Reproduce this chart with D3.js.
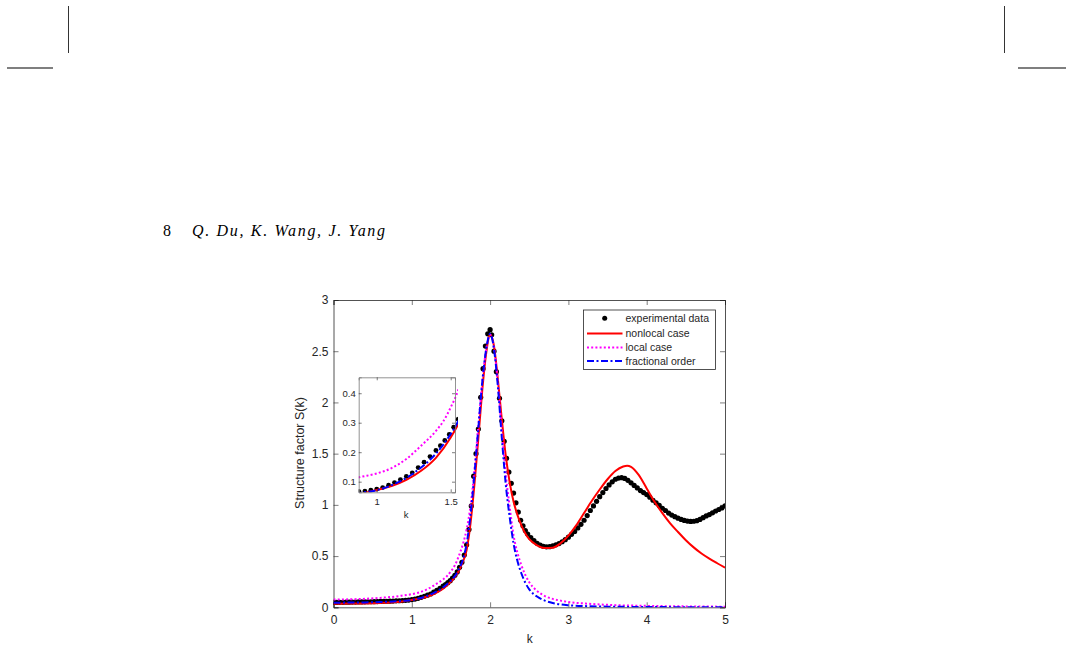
<!DOCTYPE html>
<html>
<head>
<meta charset="utf-8">
<script src="https://cdn.jsdelivr.net/npm/d3@7"></script>
<style>
  body { margin: 0; background: #fff; }
  svg { display: block; }
  text { font-family: "Liberation Sans", Arial, sans-serif; fill: #262626; }
  .serif { font-family: "Liberation Serif", "DejaVu Serif", serif; fill: #000; }
</style>
</head>
<body>
<svg id="page" width="1071" height="650"></svg>
<script>
// experimental data points (k, S)
var expK = [0.00,0.04,0.08,0.12,0.16,0.20,0.24,0.28,0.32,0.36,0.40,0.44,0.48,0.52,0.56,0.60,0.64,0.68,0.72,0.76,
  0.80,0.84,0.88,0.92,0.96,1.00,1.04,1.08,1.12,1.16,1.20,1.24,1.28,1.32,1.36,1.40,
  1.43,1.46,1.49,1.52,1.55,1.58,1.61,1.64,1.67,1.70,1.73,1.76,1.79,1.82,1.85,1.88,1.91,1.94,1.97,2.00,
  2.02,2.05,2.08,2.12,2.15,2.18,2.21,2.24,2.27,2.30,2.33,2.36,2.39,2.42,2.45,
  2.48,2.52,2.56,2.60,2.64,2.68,2.72,2.76,2.80,2.84,2.88,2.92,2.96,3.00,3.04,3.08,3.12,3.16,3.20,3.24,
  3.28,3.32,3.36,3.40,3.44,3.48,3.52,3.56,3.60,3.64,3.68,3.72,3.76,3.80,3.84,3.88,3.92,3.96,4.00,4.04,
  4.08,4.12,4.16,4.20,4.24,4.28,4.32,4.36,4.40,4.44,4.48,4.52,4.56,4.60,4.64,4.68,4.72,4.76,4.80,4.84,
  4.88,4.92,4.96,5.00];
var expS = [0.048,0.048,0.049,0.049,0.050,0.050,0.051,0.051,0.052,0.052,0.053,0.054,0.054,0.055,0.056,0.057,0.058,0.059,0.060,0.061,
  0.063,0.064,0.066,0.068,0.071,0.075,0.080,0.088,0.097,0.107,0.118,0.130,0.148,0.166,0.185,0.206,
  0.222,0.240,0.260,0.285,0.312,0.345,0.390,0.440,0.510,0.610,0.760,0.990,1.280,1.500,1.740,2.050,2.330,2.550,2.670,2.710,
  2.660,2.500,2.300,2.040,1.820,1.620,1.455,1.320,1.210,1.115,1.020,0.930,0.850,0.795,0.750,
  0.715,0.680,0.650,0.625,0.607,0.595,0.590,0.592,0.600,0.610,0.622,0.640,0.660,0.685,0.712,0.740,0.775,0.810,0.850,0.895,
  0.945,0.990,1.035,1.080,1.120,1.160,1.195,1.225,1.250,1.262,1.265,1.258,1.240,1.215,1.190,1.165,1.140,1.120,1.100,1.075,
  1.045,1.020,0.995,0.967,0.945,0.920,0.900,0.885,0.870,0.858,0.848,0.842,0.838,0.840,0.846,0.858,0.875,0.892,0.905,0.922,
  0.940,0.955,0.970,0.990];

// nonlocal case
var nonlocalK = [0,0.2,0.4,0.6,0.8,0.9,1.0,1.1,1.2,1.3,1.4,1.5,1.55,1.6,1.65,1.7,1.75,1.8,1.85,1.9,1.95,2.0,
  2.05,2.1,2.15,2.2,2.25,2.3,2.35,2.4,2.45,2.5,2.6,2.7,2.8,2.9,3.0,3.1,3.2,3.3,3.4,3.5,3.6,3.7,3.75,3.8,3.9,
  4.0,4.1,4.2,4.3,4.4,4.5,4.6,4.7,4.8,4.9,5.0];
var nonlocalS = [0.035,0.036,0.038,0.043,0.052,0.060,0.072,0.085,0.106,0.137,0.181,0.250,0.295,0.355,0.44,0.56,0.82,1.20,1.65,2.12,2.48,2.66,
  2.55,2.22,1.83,1.48,1.22,1.03,0.90,0.80,0.72,0.665,0.605,0.578,0.582,0.625,0.70,0.80,0.92,1.04,1.15,1.25,1.33,1.375,1.383,1.372,1.29,
  1.16,1.03,0.92,0.82,0.735,0.655,0.585,0.525,0.475,0.43,0.387];

// local case
var localK = [0,0.2,0.4,0.6,0.8,0.9,1.0,1.1,1.2,1.3,1.4,1.45,1.5,1.55,1.6,1.65,1.7,1.75,1.8,1.85,1.9,1.95,2.0,
  2.05,2.1,2.15,2.2,2.25,2.3,2.35,2.4,2.45,2.5,2.6,2.7,2.8,2.9,3.0,3.25,3.5,4.0,4.5,5.0];
var localS = [0.075,0.078,0.083,0.092,0.106,0.117,0.128,0.146,0.177,0.222,0.272,0.305,0.352,0.41,0.50,0.61,0.76,0.99,1.34,1.78,2.20,2.52,2.66,
  2.53,2.18,1.72,1.30,0.98,0.70,0.53,0.41,0.315,0.245,0.16,0.11,0.082,0.065,0.052,0.035,0.024,0.014,0.009,0.006];

// fractional order
var fracK = [0,0.2,0.4,0.6,0.8,0.9,1.0,1.1,1.2,1.3,1.4,1.5,1.55,1.6,1.65,1.7,1.75,1.8,1.85,1.9,1.95,2.0,
  2.05,2.1,2.15,2.2,2.25,2.3,2.35,2.4,2.45,2.5,2.6,2.7,2.8,2.9,3.0,3.25,3.5,4.0,4.5,5.0];
var fracS = [0.045,0.046,0.048,0.052,0.058,0.063,0.071,0.088,0.113,0.148,0.195,0.262,0.305,0.37,0.46,0.62,0.90,1.30,1.75,2.20,2.52,2.67,
  2.52,2.15,1.65,1.20,0.88,0.62,0.45,0.33,0.24,0.175,0.105,0.065,0.042,0.028,0.020,0.011,0.006,0.003,0.001,0.0];

var xTicks = [0, 1, 2, 3, 4, 5];
var yTicks = [0, 0.5, 1, 1.5, 2, 2.5, 3];
var insetXTicks = [1, 1.5];
var insetYTicks = [0.1, 0.2, 0.3, 0.4];
var legendLabels = ["experimental data", "nonlocal case", "local case", "fractional order"];

var svg = d3.select("#page");

// page furniture (crop marks, running head)
svg.append("line").attr("x1", 68.5).attr("x2", 68.5).attr("y1", 6).attr("y2", 53).attr("stroke", "#000").attr("stroke-width", 0.8);
svg.append("line").attr("x1", 1004.5).attr("x2", 1004.5).attr("y1", 6).attr("y2", 53).attr("stroke", "#000").attr("stroke-width", 0.8);
svg.append("line").attr("x1", 7).attr("x2", 53).attr("y1", 68).attr("y2", 68).attr("stroke", "#555").attr("stroke-width", 1.4);
svg.append("line").attr("x1", 1018).attr("x2", 1066).attr("y1", 68).attr("y2", 68).attr("stroke", "#555").attr("stroke-width", 1.4);

svg.append("text").attr("class", "serif").attr("x", 163).attr("y", 236)
  .style("font-size", "16px").text("8");
svg.append("text").attr("class", "serif").attr("x", 192).attr("y", 236)
  .style("font-size", "16px").style("font-style", "italic")
  .attr("textLength", 193).attr("lengthAdjust", "spacing")
  .text("Q. Du, K. Wang, J. Yang");

// main plot
var plot = { left: 333.5, right: 725, top: 300, bottom: 607.3 };
var x = d3.scaleLinear().domain([0, 5]).range([plot.left, plot.right]);
var y = d3.scaleLinear().domain([0, 3]).range([plot.bottom, plot.top]);

function drawAxes(g, xs, ys, xt, yt, box, fontSize, fmtX, fmtY, tick, padX, padY) {
  g.append("g").attr("transform", "translate(0," + box.bottom + ")")
    .call(d3.axisBottom(xs).tickValues(xt).tickSize(-tick).tickPadding(padX).tickFormat(fmtX));
  g.append("g").attr("transform", "translate(0," + box.top + ")")
    .call(d3.axisTop(xs).tickValues(xt).tickSize(-tick).tickFormat(""));
  g.append("g").attr("transform", "translate(" + box.left + ",0)")
    .call(d3.axisLeft(ys).tickValues(yt).tickSize(-tick).tickPadding(padY).tickFormat(fmtY));
  g.append("g").attr("transform", "translate(" + box.right + ",0)")
    .call(d3.axisRight(ys).tickValues(yt).tickSize(-tick).tickFormat(""));
  g.selectAll(".domain").attr("stroke", "#262626").attr("stroke-width", 0.8);
  g.selectAll(".tick line").attr("stroke", "#262626").attr("stroke-width", 0.6);
  g.selectAll(".tick text").style("font-size", fontSize + "px")
    .style("font-family", "'Liberation Sans', Arial, sans-serif").attr("fill", "#262626");
}

var mainG = svg.append("g");
drawAxes(mainG, x, y, xTicks, yTicks, plot, 12, d3.format("d"), function (d) { return d; }, 5, 8, 5);

svg.append("text").attr("x", (plot.left + plot.right) / 2 + 0.5).attr("y", 643)
  .attr("text-anchor", "middle").style("font-size", "12px").text("k");
svg.append("text").attr("transform", "translate(304,453) rotate(-90)")
  .attr("text-anchor", "middle").style("font-size", "12.5px").text("Structure factor S(k)");

svg.append("clipPath").attr("id", "mainClip").append("rect")
  .attr("x", plot.left).attr("y", plot.top - 4)
  .attr("width", plot.right - plot.left).attr("height", plot.bottom - plot.top + 4);

function drawSeries(g, xs, ys, r) {
  g.selectAll("circle").data(expK).enter().append("circle")
    .attr("cx", function (d) { return xs(d); })
    .attr("cy", function (d, i) { return ys(expS[i]); })
    .attr("r", r).attr("fill", "#000");

  var line = d3.line()
    .x(function (d) { return xs(d[0]); })
    .y(function (d) { return ys(d[1]); })
    .curve(d3.curveMonotoneX);

  g.append("path").datum(d3.zip(nonlocalK, nonlocalS)).attr("d", line)
    .attr("fill", "none").attr("stroke", "#ff0000").attr("stroke-width", 2);
  g.append("path").datum(d3.zip(localK, localS)).attr("d", line)
    .attr("fill", "none").attr("stroke", "#ff00ff").attr("stroke-width", 2)
    .attr("stroke-dasharray", "2,2.2");
  g.append("path").datum(d3.zip(fracK, fracS)).attr("d", line)
    .attr("fill", "none").attr("stroke", "#0000ff").attr("stroke-width", 2)
    .attr("stroke-dasharray", "7,2.5,2,2.5");
}

var mainData = svg.append("g").attr("clip-path", "url(#mainClip)");
drawSeries(mainData, x, y, 2.6);

// legend
var legend = { left: 583.5, top: 310, right: 715.5, bottom: 369.5 };
svg.append("rect").attr("x", legend.left).attr("y", legend.top)
  .attr("width", legend.right - legend.left).attr("height", legend.bottom - legend.top)
  .attr("fill", "#fff").attr("stroke", "#262626").attr("stroke-width", 0.8);
var rowY = [318.3, 333.5, 347.5, 361];
legendLabels.forEach(function (lab, i) {
  svg.append("text").attr("x", 625.5).attr("y", rowY[i]).attr("dy", "0.35em")
    .style("font-size", "10.5px").attr("fill", "#000").text(lab);
});
svg.append("circle").attr("cx", 604.7).attr("cy", rowY[0]).attr("r", 2.5).attr("fill", "#000");
svg.append("line").attr("x1", 587).attr("x2", 622.5).attr("y1", rowY[1]).attr("y2", rowY[1])
  .attr("stroke", "#ff0000").attr("stroke-width", 2);
svg.append("line").attr("x1", 587).attr("x2", 622.5).attr("y1", rowY[2]).attr("y2", rowY[2])
  .attr("stroke", "#ff00ff").attr("stroke-width", 2).attr("stroke-dasharray", "2,2.2");
svg.append("line").attr("x1", 587).attr("x2", 622.5).attr("y1", rowY[3]).attr("y2", rowY[3])
  .attr("stroke", "#0000ff").attr("stroke-width", 2).attr("stroke-dasharray", "7,2.5,2,2.5");

// inset
var inset = { left: 358.7, right: 455, top: 377.3, bottom: 492.3 };
var xi = d3.scaleLinear().domain([0.878, 1.529]).range([inset.left, inset.right]);
var yi = d3.scaleLinear().domain([0.064, 0.454]).range([inset.bottom, inset.top]);

svg.append("rect").attr("x", inset.left).attr("y", inset.top)
  .attr("width", inset.right - inset.left).attr("height", inset.bottom - inset.top)
  .attr("fill", "#fff");
svg.append("clipPath").attr("id", "insetClip").append("rect")
  .attr("x", inset.left).attr("y", inset.top - 3)
  .attr("width", inset.right - inset.left + 3).attr("height", inset.bottom - inset.top + 3);
var insetData = svg.append("g").attr("clip-path", "url(#insetClip)");
drawSeries(insetData, xi, yi, 2.4);

var insetG = svg.append("g");
drawAxes(insetG, xi, yi, insetXTicks, insetYTicks, inset, 9.5, function (d) { return d; }, d3.format(".1f"), 3, 6, 3);
insetG.selectAll(".domain").attr("stroke", "#777");
svg.append("text").attr("x", 406).attr("y", 518).attr("text-anchor", "middle")
  .style("font-size", "9.5px").text("k");
</script>
</body>
</html>
